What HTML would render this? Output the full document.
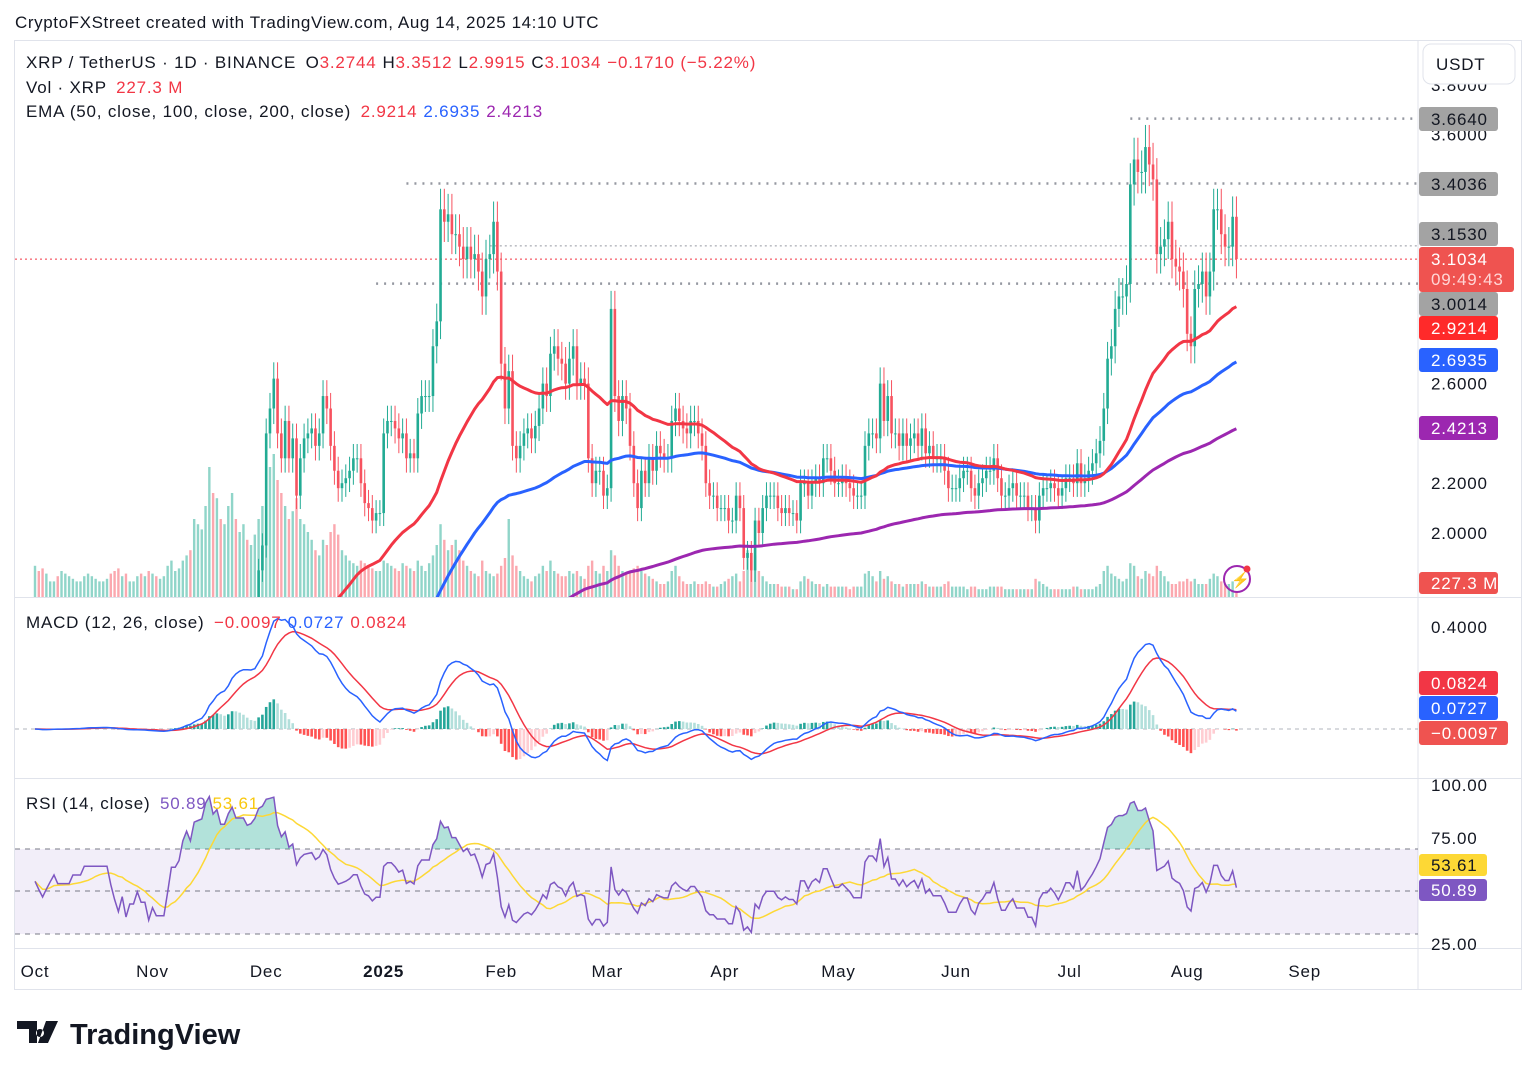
<!DOCTYPE html>
<html><head><meta charset="utf-8">
<style>
html,body{margin:0;padding:0;background:#fff;}
svg{display:block;font-family:"Liberation Sans",sans-serif;}
</style></head>
<body>
<svg id="c" width="1536" height="1077" viewBox="0 0 1536 1077" xmlns="http://www.w3.org/2000/svg">
<defs>
<clipPath id="mainClip"><rect x="15" y="41" width="1403" height="556"/></clipPath>
<clipPath id="macdClip"><rect x="15" y="598" width="1403" height="180"/></clipPath>
<clipPath id="rsiClip"><rect x="15" y="779" width="1403" height="169"/></clipPath>
<clipPath id="obClip"><rect x="15" y="779" width="1403" height="70"/></clipPath>
</defs>
<text x="15" y="28" font-size="17" letter-spacing="0.6" fill="#131722">CryptoFXStreet created with TradingView.com, Aug 14, 2025 14:10 UTC</text>
<rect x="14.5" y="40.5" width="1507" height="949" fill="none" stroke="#e0e3eb"/>
<line x1="1418" y1="40" x2="1418" y2="990" stroke="#e0e3eb"/>
<line x1="14" y1="597.5" x2="1522" y2="597.5" stroke="#e0e3eb"/>
<line x1="14" y1="778.5" x2="1522" y2="778.5" stroke="#e0e3eb"/>
<line x1="14" y1="948.5" x2="1522" y2="948.5" stroke="#e0e3eb"/>
<rect x="14" y="779" width="1404" height="169" fill="none"/>
<rect x="15" y="849" width="1403" height="85" fill="rgba(126,87,194,0.1)"/>
<g id="vol" clip-path="url(#mainClip)"></g>
<g id="hlines" clip-path="url(#mainClip)"></g>
<g id="candles" clip-path="url(#mainClip)"></g>
<g id="emas" clip-path="url(#mainClip)"></g>
<g id="macd" clip-path="url(#macdClip)"></g>
<g id="rsi" clip-path="url(#rsiClip)"></g>
<g id="axes"></g>
<g font-size="17" letter-spacing="0.8">
<text x="26" y="68" fill="#131722">XRP / TetherUS · 1D · BINANCE <tspan dx="4">O</tspan><tspan fill="#f23645">3.2744</tspan><tspan dx="6">H</tspan><tspan fill="#f23645">3.3512</tspan><tspan dx="6">L</tspan><tspan fill="#f23645">2.9915</tspan><tspan dx="6">C</tspan><tspan fill="#f23645">3.1034</tspan><tspan dx="6" fill="#f23645">−0.1710 (−5.22%)</tspan></text>
<text x="26" y="93" fill="#131722">Vol · XRP <tspan dx="4" fill="#f23645">227.3 M</tspan></text>
<text x="26" y="117" fill="#131722">EMA (50, close, 100, close, 200, close) <tspan dx="4" fill="#f23645">2.9214</tspan><tspan dx="6" fill="#2962ff">2.6935</tspan><tspan dx="6" fill="#9c27b0">2.4213</tspan></text>
<text x="26" y="628" fill="#131722">MACD (12, 26, close) <tspan dx="4" fill="#f23645">−0.0097</tspan><tspan dx="6" fill="#2962ff">0.0727</tspan><tspan dx="6" fill="#f23645">0.0824</tspan></text>
<text x="26" y="809" fill="#131722">RSI (14, close) <tspan dx="4" fill="#7e57c2">50.89</tspan><tspan dx="6" fill="#f9c80e">53.61</tspan></text>
</g>
<rect x="1423" y="44" width="92" height="40" rx="8" fill="#fff" stroke="#e0e3eb"/>
<text x="1436" y="70" font-size="17" letter-spacing="0.8" fill="#131722">USDT</text>
<g><circle cx="1237" cy="579" r="13" fill="none" stroke="#9c27b0" stroke-width="2"/><text x="1231" y="585" font-size="15" fill="#f23645">⚡</text><circle cx="1247" cy="569" r="3.5" fill="#f23645"/></g>
<g>
<path d="M17 1021h20v22h-8v-14h-12z M40 1029a4 4 0 1 0 0.01 0z M46 1021h12l-10 22h-10z" fill="#131722"/>
<text x="70" y="1044" font-size="29" font-weight="bold" fill="#131722" letter-spacing="0">TradingView</text>
</g>
</svg>
<script>
const NS="http://www.w3.org/2000/svg";
const oct=[0.53,0.52,0.51,0.52,0.53,0.54,0.53,0.53,0.53,0.53,0.54,0.54,0.54,0.55,0.55,0.55,0.55,0.55,0.55,0.55,0.54,0.53,0.52,0.53,0.51,0.52,0.52,0.53,0.52,0.52,0.50];
const nov=[0.51,0.50,0.50,0.50,0.52,0.55,0.55,0.56,0.60,0.63,0.62,0.70,0.71,0.72,0.90,1.10,1.05,1.15,1.10,1.10,1.30,1.50,1.45,1.45,1.45,1.42,1.45,1.55,1.85,1.95];
const dec=[2.40,2.50,2.62,2.40,2.30,2.45,2.30,2.38,2.15,2.30,2.38,2.40,2.42,2.35,2.40,2.55,2.50,2.35,2.25,2.18,2.20,2.22,2.25,2.30,2.30,2.20,2.12,2.10,2.05,2.08,2.08];
const jan=[2.40,2.45,2.45,2.42,2.38,2.40,2.30,2.32,2.30,2.48,2.55,2.55,2.55,2.75,2.85,3.30,3.25,3.28,3.20,3.20,3.15,3.10,3.15,3.10,3.12,3.05,2.95,3.10,3.12,3.25,3.05];
const feb=[2.68,2.50,2.65,2.35,2.30,2.35,2.40,2.42,2.38,2.43,2.50,2.60,2.55,2.72,2.75,2.70,2.68,2.60,2.70,2.75,2.60,2.62,2.60,2.30,2.20,2.25,2.25,2.15];
const mar=[2.18,2.90,2.55,2.45,2.55,2.50,2.35,2.20,2.10,2.25,2.20,2.30,2.25,2.35,2.32,2.30,2.30,2.45,2.50,2.45,2.42,2.40,2.45,2.45,2.40,2.35,2.20,2.15,2.15,2.10,2.10];
const apr=[2.10,2.05,2.05,2.15,2.10,1.90,1.92,1.85,2.05,2.00,2.10,2.15,2.15,2.15,2.10,2.08,2.10,2.08,2.08,2.05,2.20,2.20,2.15,2.20,2.22,2.20,2.30,2.30,2.25,2.20];
const may=[2.20,2.22,2.20,2.18,2.15,2.15,2.15,2.35,2.40,2.40,2.38,2.60,2.45,2.55,2.40,2.40,2.35,2.40,2.35,2.38,2.40,2.35,2.42,2.32,2.35,2.30,2.30,2.30,2.25,2.18,2.18];
const jun=[2.18,2.22,2.25,2.25,2.18,2.15,2.20,2.22,2.25,2.25,2.30,2.22,2.15,2.15,2.18,2.20,2.15,2.15,2.15,2.10,2.10,2.05,2.15,2.18,2.18,2.20,2.18,2.15,2.18,2.22];
const jul=[2.22,2.20,2.28,2.20,2.22,2.25,2.28,2.32,2.37,2.50,2.70,2.75,2.90,2.95,2.95,3.00,3.40,3.50,3.45,3.45,3.55,3.48,3.42,3.12,3.15,3.18,3.25,3.10,3.07,3.05,2.98];
const aug=[2.80,2.75,2.98,3.00,3.05,2.95,3.05,3.30,3.30,3.20,3.15,3.15,3.27,3.10];
const closes=[].concat(oct,nov,dec,jan,feb,mar,apr,may,jun,jul,aug);
const volOct=[12,10,11,9,6,6,8,10,9,8,7,6,6,8,9,8,7,6,6,7,9,10,11,8,9,6,6,8,9,8,10];
const volNov=[9,8,7,8,12,14,10,11,14,16,18,30,28,26,35,50,40,38,30,28,35,40,30,25,28,22,20,24,30,35];
const volDec=[48,50,55,45,40,35,30,33,38,30,28,25,22,18,16,22,20,25,28,24,18,16,14,13,12,14,13,12,11,10,10];
const volJan=[14,13,12,11,10,13,12,11,10,14,12,10,13,16,20,28,22,18,20,22,18,14,12,10,9,8,14,10,9,8,9];
const volFeb=[12,15,30,16,12,10,8,7,6,8,9,12,10,14,10,9,8,8,10,9,10,8,7,12,14,10,9,12];
const volMar=[10,18,16,12,10,9,10,11,12,10,9,8,7,6,5,5,6,10,12,8,6,5,5,6,5,5,6,5,4,4,5];
const volApr=[6,7,8,9,6,10,18,14,16,10,8,6,5,5,5,4,4,4,3,3,6,8,7,6,5,5,4,5,4,4];
const volMay=[4,4,4,3,4,4,4,9,10,8,6,10,7,8,6,5,5,4,5,5,5,5,6,5,4,4,4,4,5,6,4];
const volJun=[4,4,4,3,4,4,3,3,3,4,4,4,4,3,3,3,3,3,3,3,3,7,6,5,4,3,3,3,3,3];
const volJul=[3,4,4,3,3,3,3,4,5,10,12,9,8,7,6,7,13,12,8,7,10,9,8,12,10,8,6,5,5,6,6];
const volAug=[7,6,7,5,5,5,7,9,8,6,5,5,6,2.27];
const volumes=[].concat(volOct,volNov,volDec,volJan,volFeb,volMar,volApr,volMay,volJun,volJul,volAug);
const monthLabels=["Oct","Nov","Dec","2025","Feb","Mar","Apr","May","Jun","Jul","Aug","Sep"];
const monthDays=[0,31,61,92,123,151,182,212,243,273,304,335];
const priceTicks=[3.8,3.6,2.6,2.2,2.0];
const levels=[3.664,3.4036,3.0014];
const levelStart=[289,98,90];
const rsiTicks=[100,75,25];
const macdTicks=[0.4];

const X=d=>35+d*3.79;
const Y=p=>533-(p-2)*249;
const YV=v=>597-v*2.6;
const YM=m=>729-m*255;
const YR=r=>891-(r-50)*2.125;
const UP="#22ab94", DN="#f7525f";
function mk(tag,attrs,parent){const e=document.createElementNS(NS,tag);for(const k in attrs)e.setAttribute(k,attrs[k]);parent.appendChild(e);return e;}
const gV=document.getElementById('vol'),gC=document.getElementById('candles'),gE=document.getElementById('emas'),gM=document.getElementById('macd'),gR=document.getElementById('rsi'),gA=document.getElementById('axes'),gH=document.getElementById('hlines');

for(let i=0;i<closes.length;i++){
  const o=i?closes[i-1]:closes[0], c=closes[i];
  const up=c>=o, x=X(i);
  const v=mk('rect',{x:x-1.2,y:YV(volumes[i]),width:2.4,height:597-YV(volumes[i]),fill:up?"rgba(34,171,148,0.5)":"rgba(247,82,95,0.5)"},gV);
  
  
  const hi=Math.max(o,c)*1.025, lo=Math.min(o,c)*0.975;
  const g=mk('g',{},gC);
  
  
  mk('line',{x1:x,x2:x,y1:Y(hi),y2:Y(lo),stroke:up?UP:DN,'stroke-width':1},g);
  const t=Y(Math.max(o,c)),b=Y(Math.min(o,c));
  mk('rect',{x:x-1.3,y:t,width:2.6,height:Math.max(1,b-t),fill:up?UP:DN},g);
}
function ema(arr,n,seed){const a=2/(n+1);let e=seed;return arr.map(v=>e=e+a*(v-e));}
function poly(vals,fx,fy,start){let s="";for(let i=start||0;i<vals.length;i++)s+=(s?"L":"M")+fx(i).toFixed(1)+","+fy(vals[i]).toFixed(1);return s;}
const e50=ema(closes,50,0.55),e100=ema(closes,100,0.55),e200=ema(closes,200,0.55);
[[e200,"#9c27b0","ema-200-line"],[e100,"#2962ff","ema-100-line"],[e50,"#f23645","ema-50-line"]].forEach(([s,col,n])=>{
  const p=mk('path',{d:poly(s,X,Y),fill:"none",stroke:col,'stroke-width':3,'stroke-linejoin':'round'},gE);
  
  
});
levels.forEach((lv,k)=>{
  const l=mk('line',{x1:X(levelStart[k]),x2:1418,y1:Y(lv),y2:Y(lv),stroke:"#9598a1",'stroke-width':2.5,'stroke-dasharray':"2 6"},gH);
  
  
});
const l2=mk('line',{x1:X(120),x2:1418,y1:Y(3.153),y2:Y(3.153),stroke:"#9598a1",'stroke-width':1,'stroke-dasharray':"2 3"},gH);


const lp=mk('line',{x1:15,x2:1418,y1:Y(closes[closes.length-1]),y2:Y(closes[closes.length-1]),stroke:"#f23645",'stroke-width':1,'stroke-dasharray':"2 3"},gH);



const e12=ema(closes,12,closes[0]),e26=ema(closes,26,closes[0]);
const macd=e12.map((v,i)=>v-e26[i]);
const sig=ema(macd,9,0);
const hist=macd.map((v,i)=>v-sig[i]);
const z=mk('line',{x1:15,x2:1418,y1:729,y2:729,stroke:"#b2b5be",'stroke-dasharray':"4 4"},gM);


hist.forEach((h,i)=>{
  const prev=i?hist[i-1]:0;
  const col=h>=0?(h>=prev?"#26a69a":"#b2dfdb"):(h<prev?"#ff5252":"#ffcdd2");
  const y=YM(h);
  const r=mk('rect',{x:X(i)-1.3,y:Math.min(y,729),width:2.6,height:Math.abs(729-y),fill:col},gM);
  
  
});
const ms=mk('path',{d:poly(sig,X,YM),fill:"none",stroke:"#f23645",'stroke-width':1.5},gM);


const ml=mk('path',{d:poly(macd,X,YM),fill:"none",stroke:"#2962ff",'stroke-width':1.5},gM);



const rsi=[];let ag=0.006,al=0.005;
for(let i=0;i<closes.length;i++){
  const ch=i?closes[i]-closes[i-1]:0;
  const g=Math.max(ch,0),l=Math.max(-ch,0);
  ag=(ag*13+g)/14;al=(al*13+l)/14;
  rsi.push(al===0?100:100-100/(1+ag/al));
}
const rsiMa=rsi.map((v,i)=>{const s=rsi.slice(Math.max(0,i-13),i+1);return s.reduce((a,b)=>a+b,0)/s.length;});
[849,891,934].forEach(y=>{
  const d=mk('line',{x1:15,x2:1418,y1:y,y2:y,stroke:"#787b86",'stroke-dasharray':"5 5"},gR);
  
  
});
const rp=poly(rsi,X,YR);
const ob=mk('path',{d:rp+"L"+X(rsi.length-1)+",849L"+X(0)+",849Z",fill:"rgba(34,171,148,0.35)","clip-path":"url(#obClip)"},gR);


const rm=mk('path',{d:poly(rsiMa,X,YR),fill:"none",stroke:"#fdd835",'stroke-width':1.5},gR);


const rl=mk('path',{d:rp,fill:"none",stroke:"#7e57c2",'stroke-width':1.5},gR);



function txt(x,y,s,attrs,name){const t=mk('text',Object.assign({x:x,y:y,'font-size':17,'letter-spacing':0.8,fill:"#131722"},attrs||{}),gA);t.textContent=s;return t;}
priceTicks.forEach(p=>txt(1431,Y(p)+6,p.toFixed(4),{},'price-tick'));
macdTicks.forEach(m=>txt(1431,YM(m)+6,m.toFixed(4),{},'macd-tick'));
rsiTicks.forEach(r=>txt(1431,YR(r)+6,r.toFixed(2),{},'rsi-tick'));
monthLabels.forEach((m,i)=>txt(X(monthDays[i]),977,m,{'text-anchor':'middle','font-weight':m==="2025"?"bold":"normal"},'time-tick'));
function tag(y,label,bg,name,w,h,fg){
  const r=mk('rect',{x:1419,y:y-(h||24)/2,width:w||79,height:h||24,rx:3,fill:bg},gA);
  
  
  txt(1431,y+6,label,{fill:fg||"#fff"},name+'-text');
}
tag(119,"3.6640","#a3a3a3","tag-3-6640",79,24,"#131722");
tag(184,"3.4036","#a3a3a3","tag-3-4036",79,24,"#131722");
tag(234,"3.1530","#a3a3a3","tag-3-1530",79,24,"#131722");
tag(304,"3.0014","#a3a3a3","tag-3-0014",79,24,"#131722");
const cr=mk('rect',{x:1419,y:247,width:95,height:45,rx:3,fill:"#ef5350"},gA);


txt(1431,265,"3.1034",{fill:"#fff"},'current-price-text');
txt(1431,285,"09:49:43",{fill:"#ffd6d6"},'countdown-text');
tag(328,"2.9214","#ff2a2a","tag-ema50");
tag(360,"2.6935","#2962ff","tag-ema100");
tag(428,"2.4213","#9c27b0","tag-ema200");
tag(583,"227.3 M","#ef5350","tag-volume",79,22);
tag(683,"0.0824","#f23645","tag-macd-signal");
tag(708,"0.0727","#2962ff","tag-macd");
tag(733,"−0.0097","#ef5350","tag-macd-hist",89);
tag(865,"53.61","#fdd835","tag-rsi-ma",68,22,"#131722");
tag(890,"50.89","#7e57c2","tag-rsi",68,22);
</script>
</body></html>
